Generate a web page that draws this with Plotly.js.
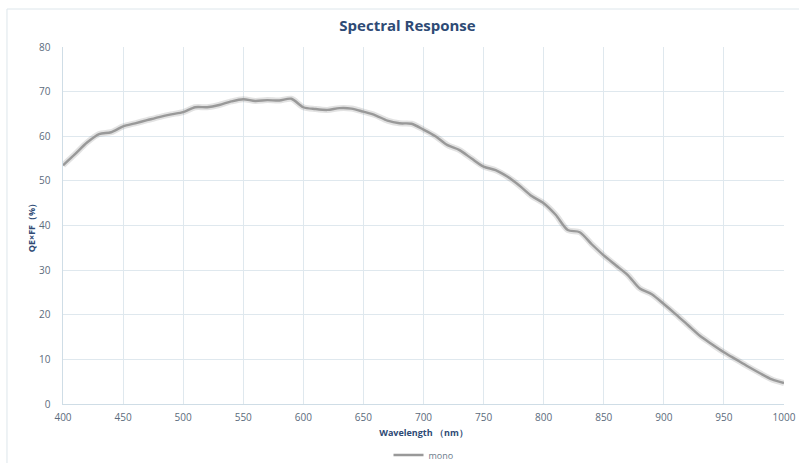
<!DOCTYPE html>
<html>
<head>
<meta charset="utf-8">
<script src="https://cdn.plot.ly/plotly-3.0.1.min.js"></script>
<style>html,body{margin:0;padding:0;background:#fff;}#chart{width:799px;height:463px;}</style>
</head>
<body>
<div id="chart"></div>
<script>
const wavelength = [400,410,420,430,440,450,460,470,480,490,500,510,520,530,540,550,560,570,580,590,600,610,620,630,640,650,660,670,680,690,700,710,720,730,740,750,760,770,780,790,800,810,820,830,840,850,860,870,880,890,900,910,920,930,940,950,960,970,980,990,1000];
const mono = [53.5,56.0,58.6,60.5,60.9,62.2,62.9,63.6,64.3,64.9,65.4,66.5,66.5,67.0,67.8,68.3,67.9,68.1,68.0,68.4,66.5,66.1,65.9,66.3,66.2,65.5,64.7,63.5,62.9,62.8,61.5,60.0,58.0,56.9,55.0,53.2,52.4,50.9,48.9,46.6,45.0,42.4,39.0,38.5,35.8,33.3,31.1,28.9,25.9,24.6,22.4,20.1,17.7,15.3,13.4,11.6,10.0,8.4,6.9,5.5,4.7];
const xTicks = [400,450,500,550,600,650,700,750,800,850,900,950,1000];
const yTicks = [0,10,20,30,40,50,60,70,80];
const seriesName = 'mono';

const traces = [
  {x: wavelength, y: mono, mode: 'lines', line: {color: 'rgba(110,110,110,0.2)', width: 6, shape: 'spline', smoothing: 0.8}, showlegend: false, hoverinfo: 'skip'},
  {x: wavelength, y: mono, name: seriesName, mode: 'lines', line: {color: '#999999', width: 2.4, shape: 'spline', smoothing: 0.8}}
];

const tickFont = {family: 'Open Sans, sans-serif', size: 10, color: '#5b6b7c'};
const layout = {
  width: 799, height: 463,
  margin: {l: 63, r: 15, t: 47, b: 59},
  paper_bgcolor: '#ffffff', plot_bgcolor: '#ffffff',
  font: {family: 'Open Sans, sans-serif'},
  title: {text: 'Spectral Response', x: 0.51, xanchor: 'center', y: 0.944, yanchor: 'middle', yref: 'container',
          font: {family: 'Open Sans, sans-serif', size: 15, color: '#2e4a75', weight: 'bold'}},
  xaxis: {range: [400, 1000], tickvals: xTicks, ticktext: xTicks.map(String), tickfont: tickFont, automargin: false,
          showgrid: true, gridcolor: '#dfe8ee', gridwidth: 1, zeroline: false,
          showline: true, linecolor: '#cfdde6', linewidth: 1, ticks: '', ticklabelstandoff: 4,
          title: {text: 'Wavelength （nm）', standoff: 6, font: {family: 'Open Sans, sans-serif', size: 9, color: '#2e4a75', weight: 'bold'}}},
  yaxis: {range: [0, 80], tickvals: yTicks, ticktext: yTicks.map(String), tickfont: tickFont, automargin: false,
          showgrid: true, gridcolor: '#dfe8ee', gridwidth: 1, zeroline: false,
          showline: true, linecolor: '#cfdde6', linewidth: 1.5, ticks: '', ticklabelstandoff: 9,
          title: {text: 'QE×FF（%）', standoff: 2, font: {family: 'Open Sans, sans-serif', size: 9, color: '#2e4a75', weight: 'bold'}}},
  showlegend: true,
  legend: {orientation: 'h', x: 0.5, xanchor: 'center', xref: 'paper', y: 8/463, yanchor: 'middle', yref: 'container',
           font: {family: 'Open Sans, sans-serif', size: 9, color: '#6a7a8a'}, bgcolor: 'rgba(0,0,0,0)'},
  shapes: [
    {type: 'rect', xref: 'paper', yref: 'paper', x0: -0.0777, x1: 1.2, y0: -0.3, y1: 1.1064,
     line: {color: '#dde6eb', width: 1}, fillcolor: 'rgba(0,0,0,0)', layer: 'below'}
  ]
};
Plotly.newPlot('chart', traces, layout, {displayModeBar: false, staticPlot: true});
</script>
</body>
</html>
